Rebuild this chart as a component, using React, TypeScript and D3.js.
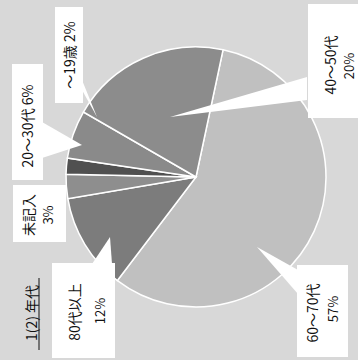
import React from "react";
import * as d3 from "d3";

const categories = ["60～70代", "80代以上", "未記入", "～19歳", "20～30代", "40～50代"];
const values = [57, 12, 3, 2, 6, 20];
const percentLabels = ["57%", "12%", "3%", "2%", "6%", "20%"];
const sliceColors = ["#c0c0c0", "#7c7c7c", "#8e8e8e", "#505050", "#8a8a8a", "#8c8c8c"];
const title = "1(2) 年代";

const W = 358;
const H = 360;
const cx = 196;
const cy = 177;
const R = 130;
const start = (12 * Math.PI) / 180;

export default function App() {
  const pie = d3
    .pie<number>()
    .sort(null)
    .startAngle(start)
    .endAngle(start + 2 * Math.PI);
  const arcs = pie(values);
  const arc = d3.arc<d3.PieArcDatum<number>>().innerRadius(0).outerRadius(R);

  const font = "'Noto Sans CJK JP', 'Noto Sans', sans-serif";
  const rt = (x: number, y: number, s: string, size = 14) => (
    <text
      transform={`translate(${x},${y}) rotate(-90)`}
      textAnchor="middle"
      dominantBaseline="central"
      fontSize={size}
      fontFamily={font}
      fill="#111"
    >
      {s}
    </text>
  );

  return (
    <svg width={W} height={H} style={{ position: "absolute", left: 0, top: 0 }}>
      <rect x={0} y={0} width={W} height={H} fill="#d8d8d8" />
      <g transform={`translate(${cx},${cy})`}>
        {arcs.map((a, i) => (
          <path key={i} d={arc(a) || ""} fill={sliceColors[i]} stroke="#fff" strokeWidth={1.5} />
        ))}
      </g>
      <rect x={308} y={4} width={50} height={114} fill="#fff" />
      <polygon points="307,77 307,100 170,117" fill="#fff" />
      <rect x={297} y={265} width={51} height={92} fill="#fff" />
      <polygon points="257,247 298,270 298,294" fill="#fff" />
      <rect x={52} y={263} width={63} height={95} fill="#fff" />
      <polygon points="92,264 112,264 110,237" fill="#fff" />
      <rect x={13} y={185} width={53} height={57} fill="#fff" />
      <rect x={12} y={64} width={31} height={116} fill="#fff" />
      <polygon points="42,122 42,158 82,145" fill="#fff" />
      <rect x={55} y={7} width={28} height={96} fill="#fff" />
      <polygon points="82,80 82,90 97,117" fill="#fff" />

      <g>{rt(330, 65, categories[5], 14)}</g>
      <g>{rt(348, 66, percentLabels[5], 13)}</g>
      <g>{rt(312, 313, categories[0], 14)}</g>
      <g>{rt(332, 309, percentLabels[0], 13)}</g>
      <g>{rt(74, 312, categories[1], 14)}</g>
      <g>{rt(99, 311, percentLabels[1], 13)}</g>
      <g>{rt(28, 215, categories[2], 14)}</g>
      <g>{rt(47, 215, percentLabels[2], 13)}</g>
      <g>{rt(27, 126, `${categories[4]} ${percentLabels[4]}`, 14)}</g>
      <g>{rt(69, 55, `${categories[3]} ${percentLabels[3]}`, 14)}</g>
      <g>{rt(31, 313, title, 14)}</g>
      <line x1={39} x2={39} y1={278} y2={350} stroke="#111" strokeWidth={1} />
    </svg>
  );
}
